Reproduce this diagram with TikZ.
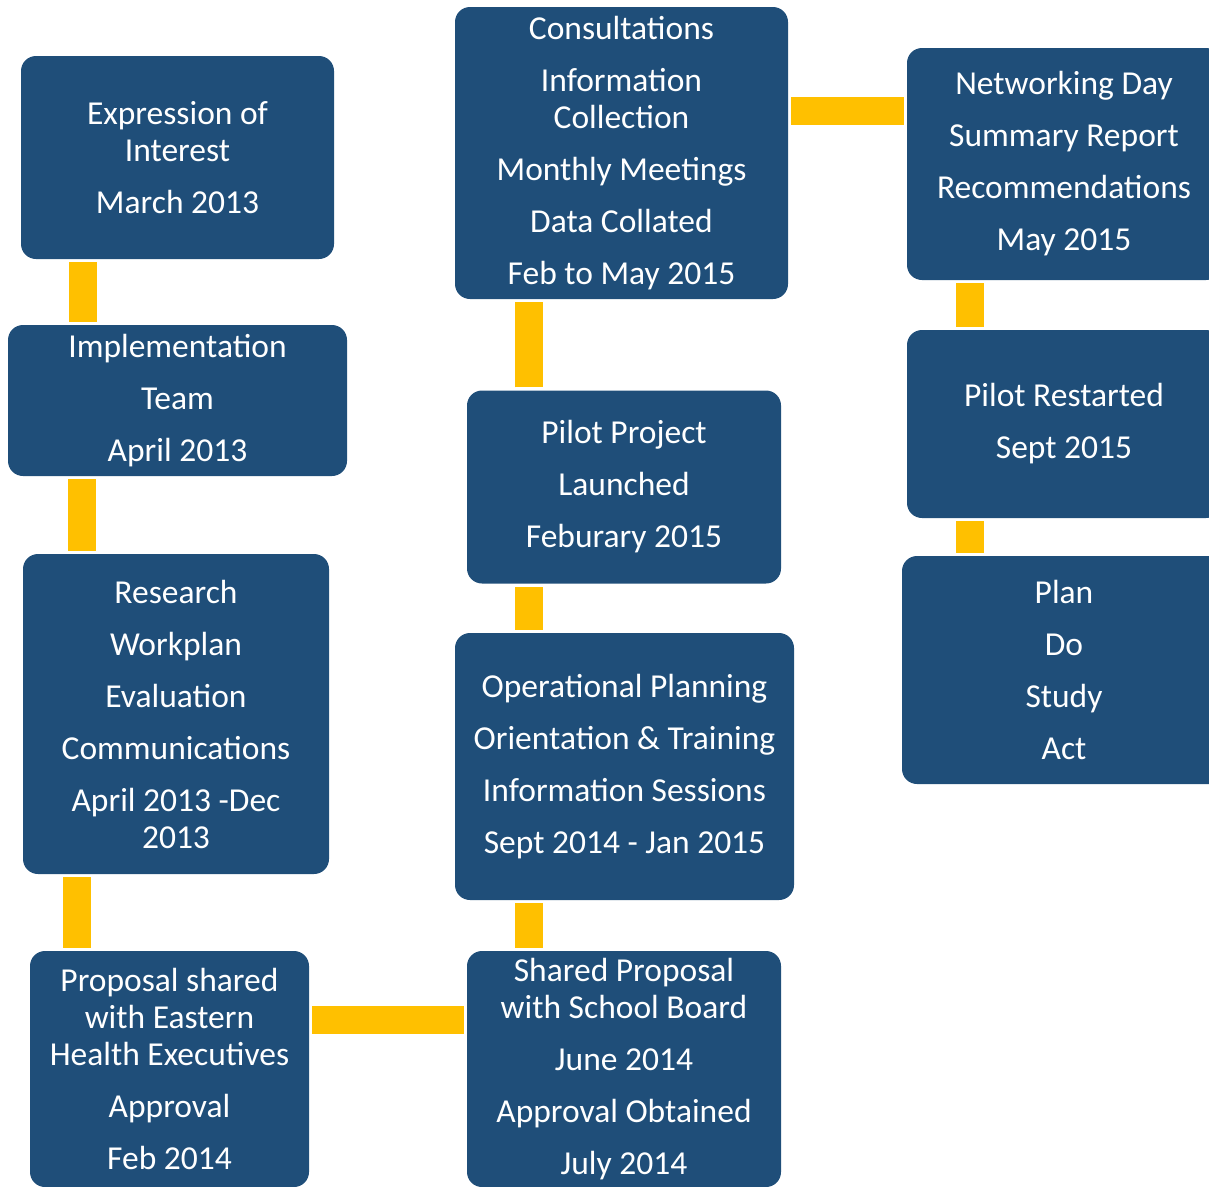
\documentclass[tikz,border=0pt]{standalone}
\usepackage{fontspec}
\setmainfont{Carlito}
\usepackage{tikz}
\usetikzlibrary{calc, shapes, backgrounds}
\definecolor{boxblue}{RGB}{31,78,121}
\definecolor{linkgold}{RGB}{255,192,0}
\tikzstyle{stage} = [rectangle, rounded corners=15pt, fill=boxblue, text=white, align=center, inner sep=0pt, font=\fontsize{33.5}{37}\selectfont]
\tikzstyle{link} = [draw=linkgold, line width=28pt, shorten <=3pt, shorten >=3pt]

\begin{document}
\begin{tikzpicture}[x=1pt, y=-1pt]
\useasboundingbox (0,0) rectangle (1209,1186);

% left column
\node[stage, minimum width=313pt, minimum height=203pt] (expr) at (177.5,157.5) {Expression of\\ Interest\\[15pt] March 2013};
\node[stage, minimum width=339pt, minimum height=151pt] (impl) at (177.5,400.5) {Implementation\\[15pt] Team\\[15pt] April 2013};
\node[stage, minimum width=306pt, minimum height=320pt] (research) at (176,714) {Research\\[15pt] Workplan\\[15pt] Evaluation\\[15pt] Communications\\[15pt] April 2013 -Dec\\ 2013};
\node[stage, minimum width=279pt, minimum height=236pt] (propEH) at (169.5,1069) {Proposal shared\\ with Eastern\\ Health Executives\\[15pt] Approval\\[15pt] Feb 2014};

% middle column
\node[stage, minimum width=314pt, minimum height=236pt] (propSB) at (624,1069) {Shared Proposal\\ with School Board\\[15pt] June 2014\\[15pt] Approval Obtained\\[15pt] July 2014};
\node[stage, minimum width=339pt, minimum height=267pt] (opplan) at (624.5,766.5) {Operational Planning\\[15pt] Orientation \& Training\\[15pt] Information Sessions\\[15pt] Sept 2014 - Jan 2015};
\node[stage, minimum width=314pt, minimum height=193pt] (pilot) at (624,487) {Pilot Project\\[15pt] Launched\\[15pt] Feburary 2015};
\node[stage, minimum width=333pt, minimum height=292pt] (consult) at (621.5,153) {Consultations\\[15pt] Information\\ Collection\\[15pt] Monthly Meetings\\[15pt] Data Collated\\[15pt] Feb to May 2015};

% right column
\node[stage, minimum width=314pt, minimum height=232pt] (network) at (1064,164) {Networking Day\\[15pt] Summary Report\\[15pt] Recommendations\\[15pt] May 2015};
\node[stage, minimum width=314pt, minimum height=188pt] (restart) at (1064,424) {Pilot Restarted\\[15pt] Sept 2015};
\node[stage, minimum width=324pt, minimum height=228pt] (pdsa) at (1064,670) {Plan\\[15pt] Do\\[15pt] Study\\[15pt] Act};

% connector lanes
\coordinate (laneA) at (83,0);
\coordinate (laneB) at (82,0);
\coordinate (laneC) at (77,0);
\coordinate (laneD) at (0,1020);
\coordinate (laneE) at (529,0);
\coordinate (laneF) at (0,111);
\coordinate (laneG) at (970,0);

\draw[link] (expr.south -| laneA) -- (impl.north -| laneA);
\draw[link] (impl.south -| laneB) -- (research.north -| laneB);
\draw[link] (research.south -| laneC) -- (propEH.north -| laneC);
\draw[link] (propEH.east |- laneD) -- (propSB.west |- laneD);
\draw[link] (propSB.north -| laneE) -- (opplan.south -| laneE);
\draw[link] (opplan.north -| laneE) -- (pilot.south -| laneE);
\draw[link] (pilot.north -| laneE) -- (consult.south -| laneE);
\draw[link] (consult.east |- laneF) -- (network.west |- laneF);
\draw[link] (network.south -| laneG) -- (restart.north -| laneG);
\draw[link] (restart.south -| laneG) -- (pdsa.north -| laneG);
\end{tikzpicture}
\end{document}
